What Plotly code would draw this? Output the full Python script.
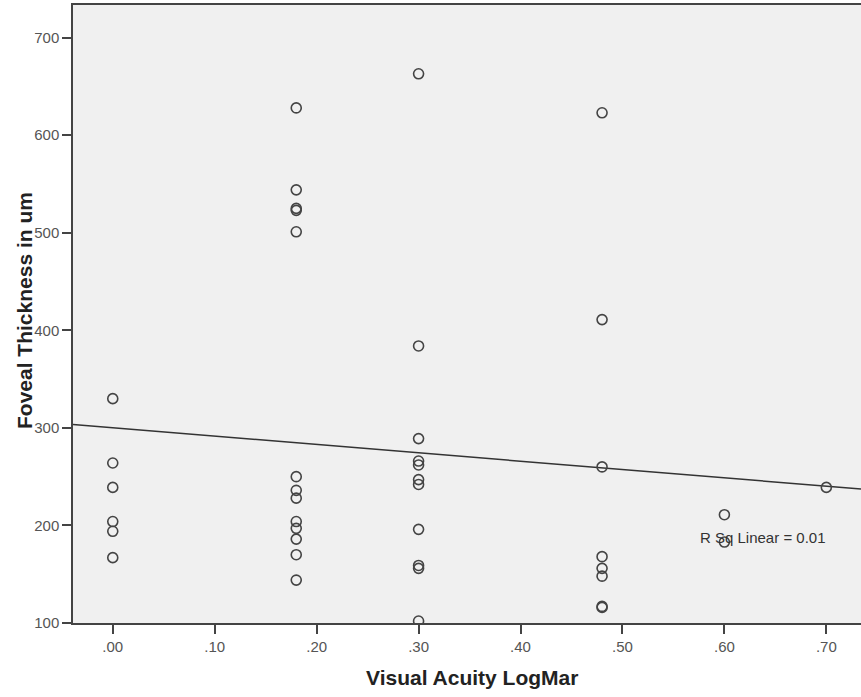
import numpy as np
import plotly.graph_objects as go

# Data
visual_acuity = [0.00]*6 + [0.18]*13 + [0.30]*11 + [0.48]*8 + [0.60]*2 + [0.70]
foveal_thickness = [
    330, 264, 239, 204, 194, 167,
    628, 544, 525, 523, 501, 250, 236, 228, 204, 197, 186, 170, 144,
    663, 384, 289, 266, 262, 247, 242, 196, 159, 156, 102,
    623, 411, 260, 168, 156, 148, 117, 116,
    211, 183,
    239,
]
x_tick_vals = [0.0, 0.1, 0.2, 0.3, 0.4, 0.5, 0.6, 0.7]
x_tick_text = [".00", ".10", ".20", ".30", ".40", ".50", ".60", ".70"]
y_tick_vals = [100, 200, 300, 400, 500, 600, 700]
r_sq_label = "R Sq Linear = 0.01"

X_RANGE = [-0.039, 0.734]
Y_RANGE = [100, 733.5]

slope, intercept = np.polyfit(visual_acuity, foveal_thickness, 1)
fit_x = np.array(X_RANGE)
fit_y = intercept + slope * fit_x

fig = go.Figure()
fig.add_trace(go.Scatter(
    x=fit_x, y=fit_y, mode="lines",
    line=dict(color="#333333", width=1.5), hoverinfo="skip", showlegend=False,
))
fig.add_trace(go.Scatter(
    x=visual_acuity, y=foveal_thickness, mode="markers",
    marker=dict(symbol="circle-open", size=10, color="#444444", line=dict(width=1.6)),
    showlegend=False,
))

FONT = "Arial, Liberation Sans, sans-serif"
axis_font = dict(family=FONT, size=15, color="#555555")
fig.update_layout(
    width=861, height=697,
    margin=dict(l=73, r=0, t=5, b=74),
    paper_bgcolor="white", plot_bgcolor="#f0f0f0",
    xaxis=dict(
        range=X_RANGE, tickvals=x_tick_vals, ticktext=x_tick_text,
        showgrid=False, zeroline=False, showline=True, linecolor="#444444", linewidth=1.5,
        mirror=True, ticks="outside", ticklen=9, tickwidth=1.5, tickcolor="#444444",
        tickfont=axis_font,
    ),
    yaxis=dict(
        range=Y_RANGE, tickvals=y_tick_vals,
        showgrid=False, zeroline=False, showline=True, linecolor="#444444", linewidth=1.5,
        ticks="outside", ticklen=9, tickwidth=1.5, tickcolor="#444444",
        tickfont=axis_font,
    ),
    annotations=[
        dict(text="<b>Visual Acuity LogMar</b>", xref="paper", yref="paper",
             x=(472 - 73) / 788, y=-(678 - 623) / 618, showarrow=False,
             xanchor="center", yanchor="middle",
             font=dict(family=FONT, size=21, color="#222222")),
        dict(text="<b>Foveal Thickness in um</b>", xref="paper", yref="paper",
             x=-(73 - 24) / 788, y=(623 - 311) / 618, showarrow=False, textangle=-90,
             xanchor="center", yanchor="middle",
             font=dict(family=FONT, size=21, color="#222222")),
        dict(text=r_sq_label, x=0.638, y=187.4, xref="x", yref="y", showarrow=False,
             xanchor="center", yanchor="middle",
             font=dict(family=FONT, size=15, color="#333333")),
    ],
)

fig.write_html("out.html", config={"displayModeBar": False},
               post_script="document.body.style.margin='0';")
